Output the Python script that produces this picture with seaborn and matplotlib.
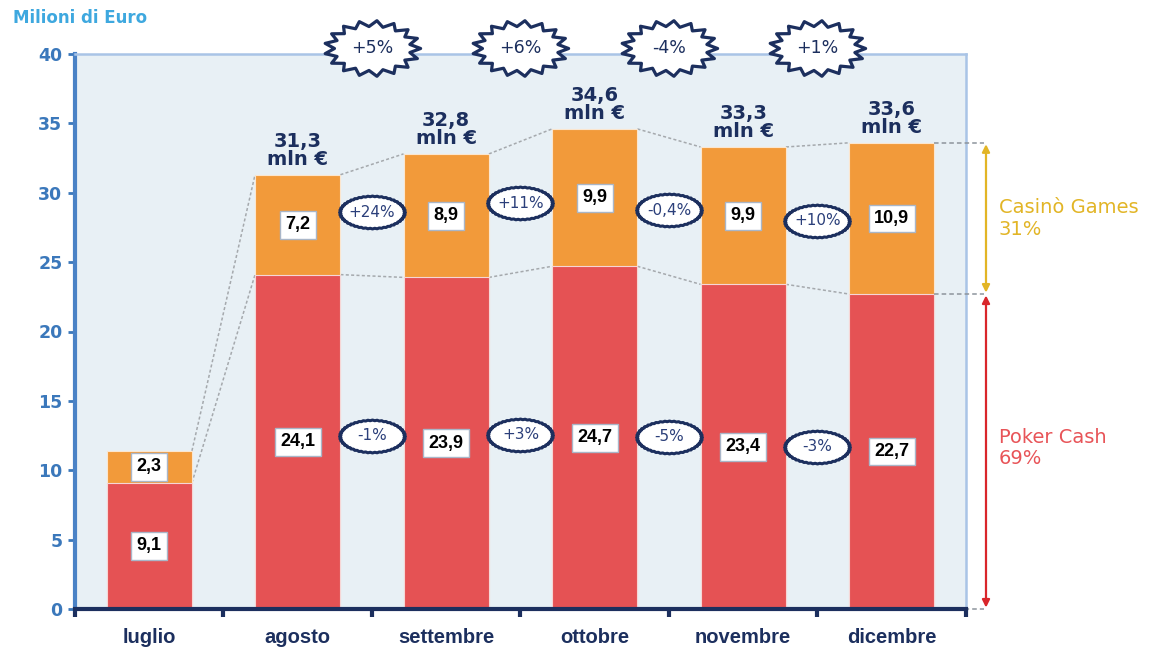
import numpy as np
import pandas as pd
import matplotlib
matplotlib.use("Agg")
import matplotlib.pyplot as plt
from matplotlib.path import Path
import seaborn as sns

# Monthly revenue split (million euro)
mesi = ["luglio", "agosto", "settembre", "ottobre", "novembre", "dicembre"]
poker_cash = [9.1, 24.1, 23.9, 24.7, 23.4, 22.7]
casino_games = [2.3, 7.2, 8.9, 9.9, 9.9, 10.9]
totali = [11.4, 31.3, 32.8, 34.6, 33.3, 33.6]

# Month-over-month changes (from agosto onward)
var_totale = ["+5%", "+6%", "-4%", "+1%"]
var_casino = ["+24%", "+11%", "-0,4%", "+10%"]
var_poker = ["-1%", "+3%", "-5%", "-3%"]

# Share of the last month
quota_casino = "31%"
quota_poker = "69%"

y_ticks = [0, 5, 10, 15, 20, 25, 30, 35, 40]

ORANGE = "#f29a3a"
RED = "#e55254"
NAVY = "#1c2f5e"
AX_BG = "#e8f0f5"
GOLD = "#e2b526"
BLUE_TXT = "#3b78bb"

sns.set_theme(style="white")
plt.rcParams["font.family"] = ["DejaVu Sans"]

df = pd.DataFrame({"mese": mesi, "poker": poker_cash,
                   "casino": casino_games, "totale": totali})

fig = plt.figure(figsize=(11.52, 6.5), dpi=100)
ax = fig.add_axes([0.0651, 0.0631, 0.7734, 0.8538])
ax.set_facecolor(AX_BG)

bw = 0.575
# stacked bars: total in orange, poker part drawn over it in red
sns.barplot(data=df, x="mese", y="totale", color=ORANGE, width=bw,
            edgecolor="#fbe6cf", linewidth=0.8, saturation=1, ax=ax, zorder=2)
sns.barplot(data=df, x="mese", y="poker", color=RED, width=bw,
            edgecolor="#f6d6d6", linewidth=0.8, saturation=1, ax=ax, zorder=3)

ax.set_xlim(-0.5, 5.5)
ax.set_ylim(0, 40)
ax.set_xlabel("")
ax.set_ylabel("")
ax.set_yticks(y_ticks)
ax.set_yticklabels([str(v) for v in y_ticks], color=BLUE_TXT,
                   fontsize=12.5, fontweight="bold")
ax.set_xticks(range(len(mesi)))
ax.set_xticklabels(mesi, family="Liberation Sans", fontweight="bold",
                   fontsize=14.5, color=NAVY)
ax.tick_params(axis="x", which="major", length=0, pad=14)
ax.set_xticks(np.arange(-0.5, 5.6, 1.0), minor=True)
ax.tick_params(axis="x", which="minor", length=6, width=3, color=NAVY,
               direction="out", bottom=True)
ax.tick_params(axis="y", length=5, width=2, color=BLUE_TXT, left=True, pad=4)

ax.spines["left"].set_color("#4a82c6")
ax.spines["left"].set_linewidth(3)
ax.spines["bottom"].set_color(NAVY)
ax.spines["bottom"].set_linewidth(3)
ax.spines["bottom"].set_zorder(6)
for s in ("top", "right"):
    ax.spines[s].set_color("#a9c4e6")
    ax.spines[s].set_linewidth(1.8)
    ax.spines[s].set_visible(True)

half = bw / 2
n = len(mesi)

# dotted connectors between neighbouring bars
for i in range(n - 1):
    for series in (totali, poker_cash):
        ax.plot([i + half, i + 1 - half], [series[i], series[i + 1]],
                ls=(0, (2, 1.5)), color="#a5a9ad", lw=1.1, zorder=1.5)

# value boxes in the middle of each segment
box = dict(boxstyle="square,pad=0.3", fc="white", ec="#a9b6c8", lw=1)
for i in range(n):
    ax.text(i, poker_cash[i] / 2, f"{poker_cash[i]:.1f}".replace(".", ","),
            ha="center", va="center", fontsize=13, fontweight="bold",
            family="Liberation Sans", color="black", bbox=box, zorder=5)
    ax.text(i, poker_cash[i] + casino_games[i] / 2,
            f"{casino_games[i]:.1f}".replace(".", ","),
            ha="center", va="center", fontsize=13, fontweight="bold",
            family="Liberation Sans", color="black", bbox=box, zorder=5)

# total labels above the bars (from agosto)
for i in range(1, n):
    ax.annotate(f"{totali[i]:.1f}".replace(".", ",") + "\nmln €",
                xy=(i, totali[i]), xytext=(0, 4), textcoords="offset points",
                ha="center", va="bottom", fontsize=14, fontweight="bold",
                color=NAVY, linespacing=0.95, zorder=5)


def burst_path(spikes, inner, aspect):
    m = spikes * 2
    ang = np.linspace(0, 2 * np.pi, m, endpoint=False)
    r = np.where(np.arange(m) % 2 == 0, 1.0, inner)
    verts = np.column_stack([r * np.cos(ang), r * np.sin(ang) * aspect])
    verts = np.vstack([verts, verts[:1]])
    codes = [Path.MOVETO] + [Path.LINETO] * (m - 1) + [Path.CLOSEPOLY]
    return Path(verts, codes)


star = burst_path(17, 0.79, 0.58)
oval = burst_path(44, 0.96, 0.50)

# starbursts with the change of the total
for k, lab in enumerate(var_totale):
    x = k + 1.5
    ax.scatter([x], [40.45], marker=star, s=4800, facecolor="white",
               edgecolor=NAVY, linewidth=2.3, clip_on=False, zorder=8)
    ax.text(x, 40.45, lab, ha="center", va="center", fontsize=12.5,
            color=NAVY, zorder=9, clip_on=False)

# ovals with the change of each segment
ell_y_casino = [28.6, 29.25, 28.75, 28.0]
ell_y_poker = [12.5, 12.55, 12.4, 11.7]
for k in range(len(var_casino)):
    x = k + 1.5
    for yy, lab in ((ell_y_casino[k], var_casino[k]), (ell_y_poker[k], var_poker[k])):
        ax.scatter([x], [yy], marker=oval, s=2250, facecolor="white",
                   edgecolor=NAVY, linewidth=2.2, zorder=6)
        ax.text(x, yy, lab, ha="center", va="center", fontsize=11,
                color="#2b3f7a", zorder=7)

# share annotation on the right of the last bar
xr = n - 1 + half
for yy in (totali[-1], poker_cash[-1], 0):
    ax.plot([xr, 5.62], [yy, yy], ls=(0, (3, 2)), color="#8d949c",
            lw=1.1, clip_on=False, zorder=4)
ax.annotate("", xy=(5.635, poker_cash[-1] + 0.1), xytext=(5.635, totali[-1] - 0.1),
            arrowprops=dict(arrowstyle="<|-|>", color=GOLD, lw=1.6,
                            mutation_scale=11, shrinkA=0, shrinkB=0),
            annotation_clip=False)
ax.annotate("", xy=(5.635, 0.1), xytext=(5.635, poker_cash[-1] - 0.1),
            arrowprops=dict(arrowstyle="<|-|>", color="#d9262b", lw=1.6,
                            mutation_scale=11, shrinkA=0, shrinkB=0),
            annotation_clip=False)
ax.text(5.72, (totali[-1] + poker_cash[-1]) / 2, "Casinò Games\n" + quota_casino,
        ha="left", va="center", fontsize=14, color=GOLD, linespacing=1.15,
        clip_on=False)
ax.text(5.72, 11.6, "Poker Cash\n" + quota_poker,
        ha="left", va="center", fontsize=14, color="#e85458", linespacing=1.15,
        clip_on=False)

fig.text(0.011, 0.972, "Milioni di Euro", ha="left", va="center",
         fontsize=12, fontweight="bold", color="#3ea8df")

fig.savefig("out.png", dpi=100)
